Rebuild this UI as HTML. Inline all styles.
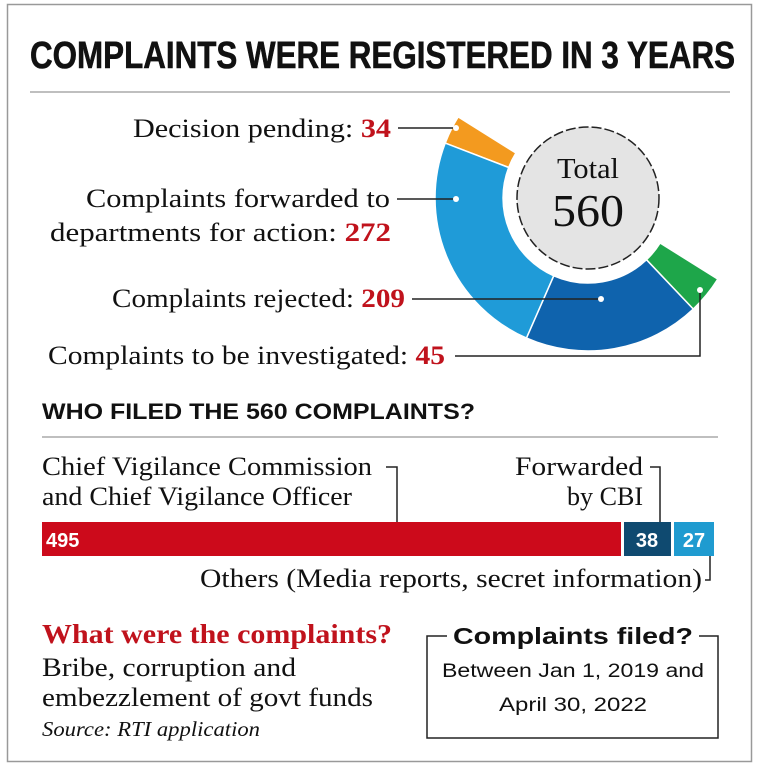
<!DOCTYPE html>
<html><head><meta charset="utf-8"><style>
html,body{margin:0;padding:0;background:#fff}
svg{display:block}
.s{font-family:"Liberation Serif",serif;fill:#111}
.a{font-family:"Liberation Sans",sans-serif;fill:#111}
.r{fill:#c0121c;font-weight:bold}
</style></head><body>
<svg width="759" height="767" viewBox="0 0 759 767" xmlns="http://www.w3.org/2000/svg">
<rect x="7.5" y="4.5" width="744" height="757" fill="none" stroke="#999" stroke-width="1.5"/>
<text x="30" y="68" class="a" font-weight="bold" font-size="38" textLength="705" lengthAdjust="spacingAndGlyphs" style="stroke:#111;stroke-width:0.6">COMPLAINTS WERE REGISTERED IN 3 YEARS</text>
<line x1="30" y1="92" x2="730" y2="92" stroke="#aaa" stroke-width="1.5"/>
<g transform="translate(588,198)" stroke="#fff" stroke-width="1.5">
<path d="M-129.8,-81.1 A153,153 0 0 0 -142.8,-54.9 L-79.3,-30.5 A85,85 0 0 1 -72.1,-45.0 Z" fill="#f39a1f"/>
<path d="M-142.8,-54.9 A153,153 0 0 0 -61.5,140.1 L-34.2,77.8 A85,85 0 0 1 -79.3,-30.5 Z" fill="#1f9bd8"/>
<path d="M-61.5,140.1 A153,153 0 0 0 105.3,111.0 L58.5,61.7 A85,85 0 0 1 -34.2,77.8 Z" fill="#0f63ad"/>
<path d="M105.3,111.0 A153,153 0 0 0 129.8,81.1 L72.1,45.0 A85,85 0 0 1 58.5,61.7 Z" fill="#1ea64a"/>
</g>
<circle cx="588" cy="198" r="71" fill="#e4e4e4" stroke="#222" stroke-width="1.5" stroke-dasharray="10,3"/>
<text x="588" y="178" class="s" font-size="28" text-anchor="middle" textLength="62" lengthAdjust="spacingAndGlyphs">Total</text>
<text x="588" y="226" class="s" font-size="46" text-anchor="middle" textLength="72" lengthAdjust="spacingAndGlyphs">560</text>
<g stroke="#222" stroke-width="1.5" fill="none">
<line x1="398" y1="128" x2="456" y2="128"/>
<line x1="397" y1="199" x2="456" y2="199"/>
<line x1="412" y1="299" x2="601" y2="299"/>
<polyline points="455,356 700,356 700,290"/>
</g>
<g fill="#fff"><circle cx="456" cy="128" r="3"/><circle cx="456" cy="199" r="3"/><circle cx="601" cy="299" r="3"/><circle cx="700" cy="290" r="3"/></g>
<g class="s" font-size="26">
<text x="133" y="137" textLength="258" lengthAdjust="spacingAndGlyphs">Decision pending: <tspan class="r">34</tspan></text>
<text x="86" y="207" textLength="304" lengthAdjust="spacingAndGlyphs">Complaints forwarded to</text>
<text x="50" y="241" textLength="341" lengthAdjust="spacingAndGlyphs">departments for action: <tspan class="r">272</tspan></text>
<text x="112" y="307" textLength="293" lengthAdjust="spacingAndGlyphs">Complaints rejected: <tspan class="r">209</tspan></text>
<text x="48" y="364" textLength="397" lengthAdjust="spacingAndGlyphs">Complaints to be investigated: <tspan class="r">45</tspan></text>
</g>
<text x="42" y="419" class="a" font-weight="bold" font-size="22" textLength="433" lengthAdjust="spacingAndGlyphs">WHO FILED THE 560 COMPLAINTS?</text>
<line x1="42" y1="437" x2="718" y2="437" stroke="#aaa" stroke-width="1.5"/>
<g class="s" font-size="26">
<text x="42" y="475" textLength="330" lengthAdjust="spacingAndGlyphs">Chief Vigilance Commission</text>
<text x="42" y="505" textLength="310" lengthAdjust="spacingAndGlyphs">and Chief Vigilance Officer</text>
<text x="515" y="475" textLength="128" lengthAdjust="spacingAndGlyphs">Forwarded</text>
<text x="567" y="505" textLength="76" lengthAdjust="spacingAndGlyphs">by CBI</text>
<text x="200" y="587" textLength="502" lengthAdjust="spacingAndGlyphs">Others (Media reports, secret information)</text>
</g>
<g stroke="#222" stroke-width="1.5" fill="none">
<polyline points="386,467 397,467 397,522"/>
<polyline points="650,467 660,467 660,522"/>
<polyline points="705,580 710,580 710,556"/>
</g>
<rect x="42" y="522" width="579" height="34" fill="#cc0a1b"/>
<rect x="624" y="522" width="47" height="34" fill="#0f4a70"/>
<rect x="674" y="522" width="40" height="34" fill="#1f9bd0"/>
<g class="a" font-weight="bold" font-size="20" style="fill:#fff">
<text x="46" y="547">495</text><text x="647" y="547" text-anchor="middle">38</text><text x="694" y="547" text-anchor="middle">27</text>
</g>
<text x="42" y="643" class="s r" font-size="27" textLength="350" lengthAdjust="spacingAndGlyphs">What were the complaints?</text>
<g class="s" font-size="26">
<text x="42" y="676" textLength="254" lengthAdjust="spacingAndGlyphs">Bribe, corruption and</text>
<text x="42" y="706" textLength="331" lengthAdjust="spacingAndGlyphs">embezzlement of govt funds</text>
</g>
<text x="42" y="736" class="s" font-size="21" font-style="italic" textLength="218" lengthAdjust="spacingAndGlyphs">Source: RTI application</text>
<rect x="427" y="636" width="291" height="102" fill="none" stroke="#222" stroke-width="1.5"/>
<rect x="447" y="620" width="252" height="30" fill="#fff"/>
<text x="573" y="644" class="a" font-weight="bold" font-size="23" text-anchor="middle" textLength="240" lengthAdjust="spacingAndGlyphs">Complaints filed?</text>
<text x="573" y="677" class="a" font-size="19" text-anchor="middle" textLength="262" lengthAdjust="spacingAndGlyphs">Between Jan 1, 2019 and</text>
<text x="573" y="711" class="a" font-size="19" text-anchor="middle" textLength="148" lengthAdjust="spacingAndGlyphs">April 30, 2022</text>
</svg>
</body></html>
